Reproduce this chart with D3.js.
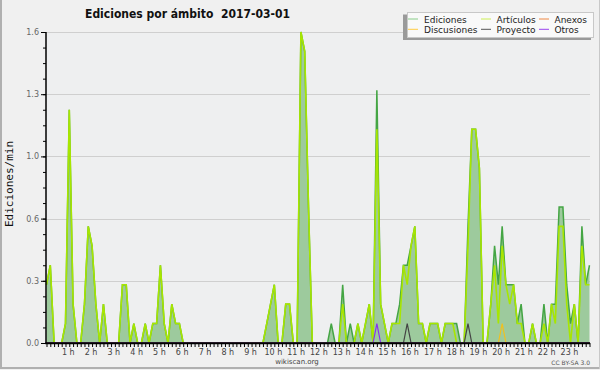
<!DOCTYPE html>
<html><head><meta charset="utf-8">
<script src="https://cdn.jsdelivr.net/npm/d3@7"></script>
<style>html,body{margin:0;padding:0;background:#f0f0f0;}svg{display:block;}</style>
</head><body>
<svg id="chart" width="600" height="370"></svg>
<script>
// 10-minute slots of 2017-03-01 (144 slots, one row of 6 per hour), values in edits/min
const ediciones = [
0.3,0.4,0,0,0,0.1,   1.2,0.2,0,0,0.2,0.6,   0.5,0.2,0,0.2,0,0,   0,0,0.3,0.3,0,0.1,
0,0,0.1,0,0.1,0.1,   0.4,0.1,0,0.2,0.1,0.1, 0,0,0,0,0,0,         0,0,0,0,0,0,
0,0,0,0,0,0,         0,0,0,0,0.1,0.2,       0.3,0,0,0.2,0.2,0,   0,1.6,1.5,0.7,0,0,
0,0,0,0.1,0,0,       0.3,0,0.1,0,0.1,0,     0.1,0.2,0,1.3,0.2,0.1, 0,0.1,0.1,0.2,0.4,0.4,
0.5,0.6,0.1,0.1,0,0.1, 0.1,0.1,0,0.1,0.1,0.1, 0.1,0,0,0.6,1.1,1.1, 0.9,0,0,0.2,0.5,0.3,
0.6,0.3,0.3,0.3,0.1,0.2, 0,0,0.1,0,0,0.2,   0,0.2,0.2,0.7,0.7,0.3, 0.1,0.2,0,0.6,0.3,0.4
];
const articulos = [
0.3,0.4,0,0,0,0.1,   1.2,0.2,0,0,0.2,0.6,   0.5,0.2,0,0.2,0,0,   0,0,0.3,0.3,0,0.1,
0,0,0.1,0,0.1,0.1,   0.4,0.1,0,0.2,0.1,0.1, 0,0,0,0,0,0,         0,0,0,0,0,0,
0,0,0,0,0,0,         0,0,0,0,0.1,0.2,       0.3,0,0,0.2,0.2,0,   0,1.6,1.5,0.7,0,0,
0,0,0,0,0,0,         0.2,0,0,0,0.1,0,       0.1,0.2,0,1.1,0.2,0.1, 0,0.1,0.1,0.1,0.4,0.3,
0.5,0.6,0.1,0.1,0,0.1, 0.1,0.1,0,0.1,0.1,0.1, 0,0,0,0.5,1.1,1.1, 0.9,0,0,0.2,0.4,0.1,
0.5,0.3,0.2,0.3,0.1,0.1, 0,0,0.1,0,0,0.1,   0,0.2,0.1,0.6,0.6,0.2, 0,0.2,0,0.5,0.3,0.3
];
const anexos = [
0,0,0,0,0,0, 0,0,0,0,0,0, 0,0,0,0,0,0, 0,0,0,0,0,0,
0,0,0,0,0,0, 0,0,0,0,0,0, 0,0,0,0,0,0, 0,0,0,0,0,0,
0,0,0,0,0,0, 0,0,0,0,0,0, 0,0,0,0,0,0, 0,0,0,0,0,0,
0,0,0,0,0,0, 0,0,0,0,0,0, 0,0,0,0,0,0, 0,0,0,0,0,0,
0,0,0,0,0,0, 0,0,0,0,0,0, 0,0,0,0,0,0, 0,0,0,0,0,0,
0,0,0,0,0,0, 0,0,0,0,0,0, 0,0,0,0,0,0, 0,0,0,0,0,0
];
const discusiones = [
0,0,0,0,0,0, 0,0,0,0,0,0, 0,0,0,0,0,0, 0,0,0,0,0,0,
0,0,0,0,0,0, 0,0,0,0,0,0, 0,0,0,0,0,0, 0,0,0,0,0,0,
0,0,0,0,0,0, 0,0,0,0,0,0, 0,0,0,0,0,0, 0,0,0,0,0,0,
0,0,0,0,0,0, 0,0,0,0,0,0, 0,0,0,0,0,0, 0,0,0,0,0,0,
0,0,0,0,0,0, 0,0,0,0,0,0, 0,0,0,0,0,0, 0,0,0,0,0,0,
0.1,0,0,0,0,0, 0,0,0,0,0,0, 0,0,0,0,0,0, 0,0,0,0,0,0
];
const proyecto = [
0,0,0,0,0,0, 0,0,0,0,0,0, 0,0,0,0,0,0, 0,0,0,0,0,0,
0,0,0,0,0,0, 0,0,0,0,0,0, 0,0,0,0,0,0, 0,0,0,0,0,0,
0,0,0,0,0,0, 0,0,0,0,0,0, 0,0,0,0,0,0, 0,0,0,0,0,0,
0,0,0,0,0,0, 0,0,0,0,0,0, 0,0,0,0,0,0, 0,0,0,0,0,0.1,
0,0,0,0,0,0, 0,0,0,0,0,0, 0,0,0,0.1,0,0, 0,0,0,0,0,0,
0,0,0,0,0,0, 0,0,0,0,0,0, 0,0,0,0,0,0, 0,0,0,0,0,0
];
const otros = [
0,0,0,0,0,0, 0,0,0,0,0,0, 0,0,0,0,0,0, 0,0,0,0,0,0,
0,0,0,0,0,0, 0,0,0,0,0,0, 0,0,0,0,0,0, 0,0,0,0,0,0,
0,0,0,0,0,0, 0,0,0,0,0,0, 0,0,0,0,0,0, 0,0,0,0,0,0,
0,0,0,0,0,0, 0,0,0,0,0,0, 0,0,0,0.1,0,0, 0,0,0,0,0,0,
0,0,0,0,0,0, 0,0,0,0,0,0, 0,0,0,0,0,0, 0,0,0,0,0,0,
0,0,0,0,0,0, 0,0,0,0,0,0, 0,0,0,0,0,0, 0,0,0,0,0,0
];
const hourLabels = ["1 h","2 h","3 h","4 h","5 h","6 h","7 h","8 h","9 h","10 h","11 h","12 h",
  "13 h","14 h","15 h","16 h","17 h","18 h","19 h","20 h","21 h","22 h","23 h"];
const yTicks = [0, 0.32, 0.64, 0.96, 1.28, 1.6];
const legendNames = ["Ediciones","Artículos","Anexos","Discusiones","Proyecto","Otros"];
const legendColors = ["#88cc88","#ccee55","#ee8844","#ffcc44","#555555","#9944ee"];

const svg = d3.select("#chart");
const W = 600, H = 370;
const pLeft = 46, pRight = 590, pTop = 32, pBottom = 343;

svg.append("rect").attr("width", W).attr("height", H).attr("fill", "#f0f0f0");
svg.append("line").attr("x1",1).attr("y1",0).attr("x2",1).attr("y2",369).attr("stroke","#b0b0b0").attr("stroke-width",2);
svg.append("line").attr("x1",0).attr("y1",368).attr("x2",600).attr("y2",368).attr("stroke","#b0b0b0").attr("stroke-width",2);
svg.append("line").attr("x1",599.5).attr("y1",0).attr("x2",599.5).attr("y2",369).attr("stroke","#c8c8c8").attr("stroke-width",1);

const n = ediciones.length;
const x = d3.scaleLinear().domain([0, n - 1]).range([46.5, 589.5]);
const y = d3.scaleLinear().domain([0, 1.6]).range([pBottom, pTop]);

svg.append("rect").attr("x", pLeft).attr("y", pTop).attr("width", pRight - pLeft).attr("height", pBottom - pTop).attr("fill", "#eeeff0");

svg.append("g").selectAll("line").data(yTicks.filter(d => d > 0)).join("line")
  .attr("x1", pLeft).attr("x2", pRight).attr("y1", d => Math.round(y(d)) + 0.5).attr("y2", d => Math.round(y(d)) + 0.5)
  .attr("stroke", "#cfcfcf").attr("stroke-width", 1);

const area = d3.area().x((d, i) => x(i)).y0(pBottom).y1(d => y(d));
svg.append("path").datum(ediciones).attr("d", area).attr("fill", "#9dca9d");
const line = d3.line().x((d, i) => x(i)).y(d => y(d));
svg.append("path").datum(ediciones).attr("d", line).attr("fill", "none").attr("stroke", "#44a544").attr("stroke-width", 1.5);
svg.append("path").datum(articulos).attr("d", line).attr("fill", "none").attr("stroke", "#a8e600").attr("stroke-width", 1.6);
[[anexos, "#ee7733"], [discusiones, "#f0c020"], [proyecto, "#444444"], [otros, "#8833ee"]].forEach(([s, c]) => {
  svg.append("path").datum(s).attr("d", line).attr("fill", "none").attr("stroke", c).attr("stroke-width", 1.2);
});

const yAxis = d3.axisLeft(y).tickValues(yTicks).tickFormat(d3.format(".1f")).tickSize(5).tickPadding(2);
const gy = svg.append("g").attr("transform", `translate(${pLeft},0)`).call(yAxis);
gy.select(".domain").remove();
gy.selectAll("text").attr("font-family", "DejaVu Sans").attr("font-size", 8).attr("fill", "#666");
gy.selectAll(".tick line").attr("stroke", "#000");
const gym = svg.append("g").attr("transform", `translate(${pLeft},0)`)
  .call(d3.axisLeft(y).tickValues(d3.range(0, 1.61, 0.08)).tickFormat("").tickSize(3));
gym.select(".domain").remove();
svg.append("line").attr("x1", pLeft).attr("x2", pLeft).attr("y1", pTop).attr("y2", pBottom + 1).attr("stroke", "#000").attr("stroke-width", 1.5);

const gx = svg.append("g").attr("transform", `translate(0,${pBottom})`)
  .call(d3.axisBottom(x).tickValues(d3.range(0, n)).tickFormat("").tickSize(4));
gx.select(".domain").remove();
gx.selectAll(".tick line").attr("stroke", "#000");
svg.append("line").attr("x1", pLeft - 0.75).attr("x2", pRight).attr("y1", pBottom + 0.2).attr("y2", pBottom + 0.2).attr("stroke", "#000").attr("stroke-width", 2);
svg.append("g").selectAll("text").data(hourLabels).join("text")
  .attr("x", (d, i) => x((i + 1) * 6) - 1).attr("y", 354.5)
  .attr("text-anchor", "middle").attr("font-family", "DejaVu Sans").attr("font-size", 8).attr("fill", "#444")
  .text(d => d);

svg.append("text").attr("x", 85).attr("y", 18).attr("font-family", "DejaVu Sans").attr("font-weight", "bold")
  .attr("font-size", 13).attr("fill", "#111").attr("textLength", 205).attr("lengthAdjust", "spacingAndGlyphs")
  .style("white-space", "pre")
  .text("Ediciones por ámbito  2017-03-01");

svg.append("text").attr("transform", "translate(13,184) rotate(-90)").attr("text-anchor", "middle")
  .attr("font-family", "DejaVu Sans Mono").attr("font-size", 11).attr("fill", "#111").text("Ediciones/min");

svg.append("text").attr("x", 297).attr("y", 364).attr("text-anchor", "middle").attr("font-family", "DejaVu Sans")
  .attr("font-size", 7).attr("fill", "#444").text("wikiscan.org");
svg.append("text").attr("x", 590).attr("y", 365).attr("text-anchor", "end").attr("font-family", "DejaVu Sans")
  .attr("font-size", 6).attr("fill", "#555").text("CC BY-SA 3.0");

svg.append("rect").attr("x", 403).attr("y", 14.5).attr("width", 188).attr("height", 25.5).attr("fill", "#9a9a9a");
svg.append("rect").attr("x", 407.5).attr("y", 12.5).attr("width", 186).attr("height", 25).attr("fill", "#f9f9f9").attr("stroke", "#c8c8c8");
const colX = [408, 481, 539];
const txtX = [424, 496.5, 554.5];
const rowY = [19, 29.3];
const order = [[0,0,0],[1,1,0],[2,2,0],[3,0,1],[4,1,1],[5,2,1]];
const lg = svg.append("g").selectAll("g").data(order).join("g");
lg.append("line").attr("x1", d => colX[d[1]]).attr("x2", d => colX[d[1]] + 10)
  .attr("y1", d => rowY[d[2]]).attr("y2", d => rowY[d[2]]).attr("stroke", d => legendColors[d[0]]).attr("stroke-width", 1);
lg.append("text").attr("x", d => txtX[d[1]]).attr("y", d => rowY[d[2]] + 3.5)
  .attr("font-family", "DejaVu Sans").attr("font-size", 9).attr("fill", "#222").text(d => legendNames[d[0]]);
</script>
</body></html>
